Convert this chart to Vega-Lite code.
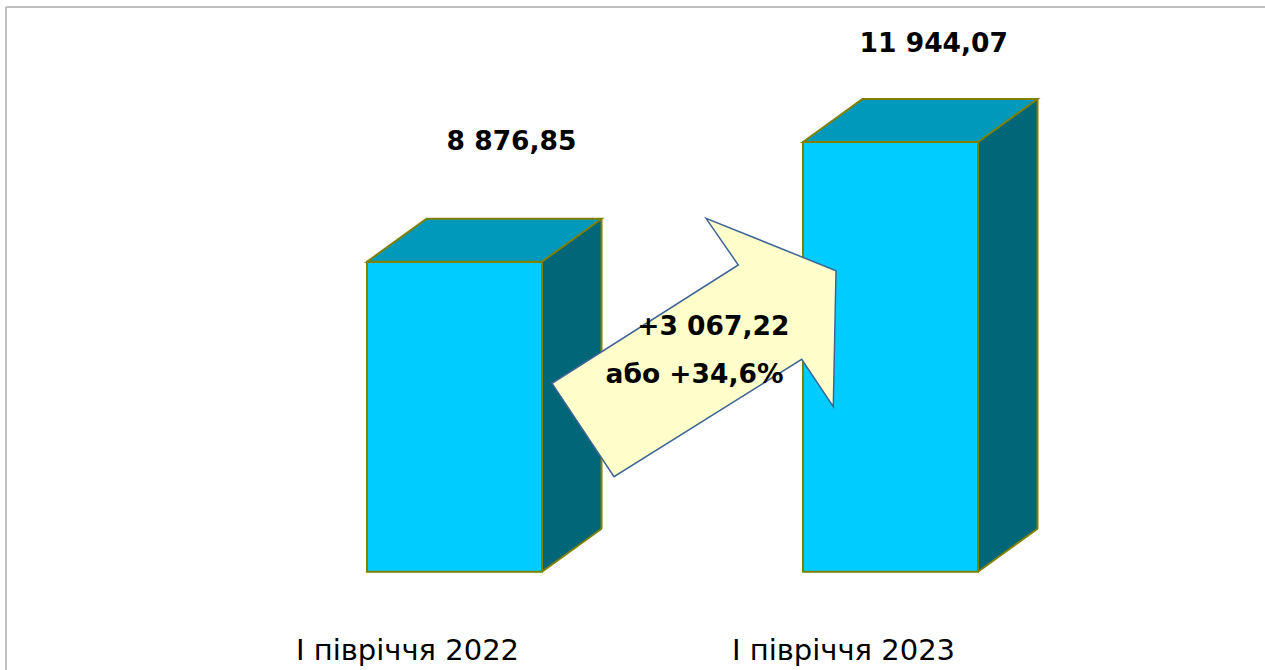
{
  "$schema": "https://vega.github.io/schema/vega-lite/v6.json",
  "width": 1259,
  "height": 663,
  "autosize": {"type": "none"},
  "padding": {"left": 6, "top": 7, "right": 0, "bottom": 0},
  "background": "white",
  "config": {
    "view": {"stroke": null},
    "locale": {"number": {"decimal": ",", "thousands": " ", "grouping": [3], "currency": ["", ""]}}
  },
  "datasets": {
    "bars": [
      {"period": "І півріччя 2022", "value": 8876.85},
      {"period": "І півріччя 2023", "value": 11944.07}
    ],
    "change": [
      {"period": "І півріччя 2022", "base": 8876.85, "diff": 3067.22, "note": "або +34,6%"}
    ]
  },
  "layer": [
    {
      "data": {"values": [{}]},
      "mark": {"type": "rule", "color": "#BFBFBF", "strokeWidth": 2},
      "encoding": {"y": {"value": 0}}
    },
    {
      "data": {"values": [{}]},
      "mark": {"type": "rule", "color": "#BFBFBF", "strokeWidth": 2},
      "encoding": {"x": {"value": 0}}
    },
    {
      "data": {"name": "bars"},
      "encoding": {
        "x": {"field": "period", "type": "nominal",
              "scale": {"type": "band", "domain": ["І півріччя 2022", "І півріччя 2023"], "paddingInner": 0.59862, "paddingOuter": 0.743115, "align": 0.5571, "round": false},
              "axis": {"title": null, "orient": "bottom", "offset": -10.5, "domain": false, "ticks": false, "tickSize": 0, "labelPadding": 0, "labelBaseline": "alphabetic", "labelAngle": 0, "labelOffset": -47, "labelLimit": 0, "labelOverlap": false, "labelFont": "DejaVu Sans", "labelFontSize": 29, "labelColor": "#000000", "grid": false}}
      },
      "layer": [
        {
          "mark": {"type": "rule", "color": "#006678", "strokeWidth": 59.5, "strokeCap": "butt", "xOffset": 117.25, "yOffset": -43, "y2Offset": -43},
          "encoding": {
            "y": {"field": "value", "type": "quantitative", "axis": null,
                  "scale": {"domain": [-1585.6, 15403.5], "nice": false, "zero": false}},
            "y2": {"datum": 933.3}
          }
        },
        {
          "mark": {"type": "point", "shape": "M 0.87 0 L 0.87 -0.46 L 1.475 -0.46 L 1.475 -0.43 Z", "size": 40000, "filled": true, "fill": "#006678", "strokeWidth": 0, "opacity": 1},
          "encoding": {
            "y": {"datum": 933.3, "type": "quantitative", "axis": null}
          }
        },
        {
          "mark": {"type": "bar", "fill": "#00CCFF", "stroke": "#808000", "strokeWidth": 2, "opacity": 1},
          "encoding": {
            "y": {"field": "value", "type": "quantitative", "axis": null},
            "y2": {"datum": 933.3}
          }
        },
        {
          "mark": {"type": "point", "shape": "M -0.875 0 L -0.28 -0.43 L 1.47 -0.43 L 0.875 0 Z", "size": 40000, "filled": true, "fill": "#0099BB", "stroke": "#808000", "strokeWidth": 2, "opacity": 1},
          "encoding": {
            "y": {"field": "value", "type": "quantitative", "axis": null}
          }
        },
        {
          "mark": {"type": "rule", "color": "#808000", "strokeWidth": 2, "xOffset": 147, "yOffset": -43, "y2Offset": -43},
          "encoding": {
            "y": {"field": "value", "type": "quantitative", "axis": null},
            "y2": {"datum": 933.3}
          }
        },
        {
          "mark": {"type": "point", "shape": "M 0.875 0 L 1.47 -0.43", "size": 40000, "filled": false, "stroke": "#808000", "strokeWidth": 2, "opacity": 1},
          "encoding": {
            "y": {"datum": 933.3, "type": "quantitative", "axis": null}
          }
        },
        {
          "transform": [{"filter": {"field": "period", "equal": "І півріччя 2022"}}],
          "mark": {"type": "text", "font": "DejaVu Sans", "fontWeight": "bold", "fontSize": 26.5, "color": "#000000", "align": "center", "baseline": "alphabetic", "dx": 57, "dy": -111.7},
          "encoding": {
            "y": {"field": "value", "type": "quantitative", "axis": null},
            "text": {"field": "value", "type": "quantitative", "format": ",.2f"}
          }
        },
        {
          "transform": [{"filter": {"field": "period", "equal": "І півріччя 2023"}}],
          "mark": {"type": "text", "font": "DejaVu Sans", "fontWeight": "bold", "fontSize": 26.5, "color": "#000000", "align": "center", "baseline": "alphabetic", "dx": 43.3, "dy": -90.3},
          "encoding": {
            "y": {"field": "value", "type": "quantitative", "axis": null},
            "text": {"field": "value", "type": "quantitative", "format": ",.2f"}
          }
        },
        {
          "data": {"name": "change"},
          "mark": {"type": "point", "shape": "M 2.515 -0.434 L 2.838 0.033 L 0.975 1.216 L 1.595 2.15 L 3.472 0.976 L 3.788 1.45 L 3.815 0.09 Z", "size": 40000, "filled": true, "fill": "#FFFFCC", "stroke": "#3E6496", "strokeWidth": 1.5, "opacity": 1},
          "encoding": {
            "y": {"field": "base", "type": "quantitative", "axis": null}
          }
        },
        {
          "data": {"name": "change"},
          "mark": {"type": "text", "font": "DejaVu Sans", "fontWeight": "bold", "fontSize": 26.5, "color": "#000000", "align": "center", "baseline": "alphabetic", "dx": 258.8, "dy": 73.3},
          "encoding": {
            "y": {"field": "base", "type": "quantitative", "axis": null},
            "text": {"field": "diff", "type": "quantitative", "format": "+,.2f"}
          }
        },
        {
          "data": {"name": "change"},
          "mark": {"type": "text", "font": "DejaVu Sans", "fontWeight": "bold", "fontSize": 26.5, "color": "#000000", "align": "center", "baseline": "alphabetic", "dx": 240, "dy": 120.8},
          "encoding": {
            "y": {"field": "base", "type": "quantitative", "axis": null},
            "text": {"field": "note", "type": "nominal"}
          }
        }
      ]
    }
  ]
}
